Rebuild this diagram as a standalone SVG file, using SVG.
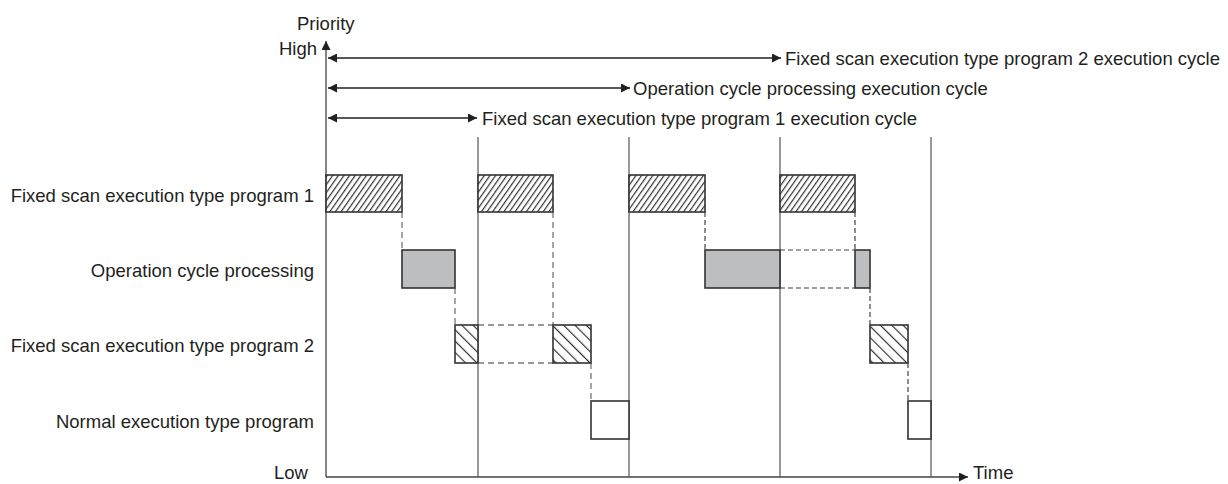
<svg xmlns="http://www.w3.org/2000/svg" width="1228" height="484" viewBox="0 0 1228 484">
<style>
text{font-family:"Liberation Sans",Arial,sans-serif;font-size:18.5px;fill:#231f20}
.lbl{text-anchor:end}
.axis{stroke:#444;stroke-width:1.3;fill:none}
.vline{stroke:#555;stroke-width:1.2;fill:none}
.arr{stroke:#231f20;stroke-width:1.3;fill:none}
.box{stroke:#333;stroke-width:1.6}
.dash{stroke:#777;stroke-width:1.3;stroke-dasharray:6 4;fill:none}
.dashd{stroke:#444;stroke-width:1.2;stroke-dasharray:5 3;fill:none}
</style>
<defs>
<pattern id="h1" patternUnits="userSpaceOnUse" width="4.6" height="5" patternTransform="rotate(35)">
<rect width="4.6" height="5" fill="#fff"/>
<line x1="0.6" y1="0" x2="0.6" y2="5" stroke="#222" stroke-width="1.1"/>
</pattern>
<pattern id="h2" patternUnits="userSpaceOnUse" width="8" height="8" patternTransform="rotate(-45)">
<rect width="8" height="8" fill="#fff"/>
<line x1="0.6" y1="0" x2="0.6" y2="8" stroke="#222" stroke-width="1.1"/>
</pattern>
<marker id="ah" viewBox="0 0 10 10" refX="10" refY="5" markerWidth="10" markerHeight="9" markerUnits="userSpaceOnUse" orient="auto-start-reverse">
<path d="M0,0 L10,5 L0,10 z" fill="#231f20"/>
</marker>
</defs>

<g id="axes">
<line class="axis" x1="326" y1="477" x2="326" y2="41" marker-end="url(#ah)"/>
<line class="axis" x1="326" y1="477" x2="968" y2="477" marker-end="url(#ah)"/>
<text x="297" y="30">Priority</text>
<text class="lbl" x="317" y="55">High</text>
<text class="lbl" x="308" y="479">Low</text>
<text x="973" y="479">Time</text>
</g>

<g id="grid">
<line class="vline" x1="478" y1="137" x2="478" y2="477"/>
<line class="vline" x1="629" y1="137" x2="629" y2="477"/>
<line class="vline" x1="780" y1="137" x2="780" y2="477"/>
<line class="vline" x1="931" y1="137" x2="931" y2="477"/>
</g>

<g id="connectors">
<line class="arr" x1="328" y1="58" x2="781" y2="58" marker-start="url(#ah)" marker-end="url(#ah)"/>
<line class="arr" x1="328" y1="88" x2="630" y2="88" marker-start="url(#ah)" marker-end="url(#ah)"/>
<line class="arr" x1="328" y1="118" x2="477" y2="118" marker-start="url(#ah)" marker-end="url(#ah)"/>
<line class="dash" x1="402" y1="212" x2="402" y2="250"/>
<line class="dash" x1="455" y1="288" x2="455" y2="325"/>
<line class="dash" x1="553" y1="212" x2="553" y2="325"/>
<line class="dash" x1="591" y1="363" x2="591" y2="401"/>
<line class="dashd" x1="705" y1="212" x2="705" y2="250"/>
<line class="dashd" x1="855" y1="212" x2="855" y2="250"/>
<line class="dashd" x1="870" y1="288" x2="870" y2="325"/>
<line class="dashd" x1="908" y1="363" x2="908" y2="401"/>
<line class="dash" x1="478" y1="325" x2="553" y2="325"/>
<line class="dash" x1="478" y1="363" x2="553" y2="363"/>
<line class="dashd" x1="780" y1="250" x2="855" y2="250"/>
<line class="dashd" x1="780" y1="288" x2="855" y2="288"/>
</g>

<g id="cycle-labels">
<text x="785" y="65">Fixed scan execution type program 2 execution cycle</text>
<text x="633" y="95">Operation cycle processing execution cycle</text>
<text x="482" y="125">Fixed scan execution type program 1 execution cycle</text>
</g>

<g id="row-labels">
<text class="lbl" x="314" y="202">Fixed scan execution type program 1</text>
<text class="lbl" x="314" y="277">Operation cycle processing</text>
<text class="lbl" x="314" y="352">Fixed scan execution type program 2</text>
<text class="lbl" x="314" y="428">Normal execution type program</text>
</g>

<g id="fixed-scan-1">
<rect class="box" x="326" y="175" width="76" height="37" fill="url(#h1)"/>
<rect class="box" x="478" y="175" width="75" height="37" fill="url(#h1)"/>
<rect class="box" x="629" y="175" width="76" height="37" fill="url(#h1)"/>
<rect class="box" x="780" y="175" width="75" height="37" fill="url(#h1)"/>
</g>

<g id="operation-cycle">
<rect class="box" x="402" y="250" width="53" height="38" fill="#bdbec0"/>
<rect class="box" x="705" y="250" width="75" height="38" fill="#bdbec0"/>
<rect class="box" x="855" y="250" width="15" height="38" fill="#bdbec0"/>
</g>

<g id="fixed-scan-2">
<rect class="box" x="455" y="325" width="23" height="38" fill="url(#h2)"/>
<rect class="box" x="553" y="325" width="38" height="38" fill="url(#h2)"/>
<rect class="box" x="870" y="325" width="38" height="38" fill="url(#h2)"/>
</g>

<g id="normal">
<rect class="box" x="591" y="401" width="38" height="38" fill="#fff"/>
<rect class="box" x="908" y="401" width="23" height="38" fill="#fff"/>
</g>
</svg>
